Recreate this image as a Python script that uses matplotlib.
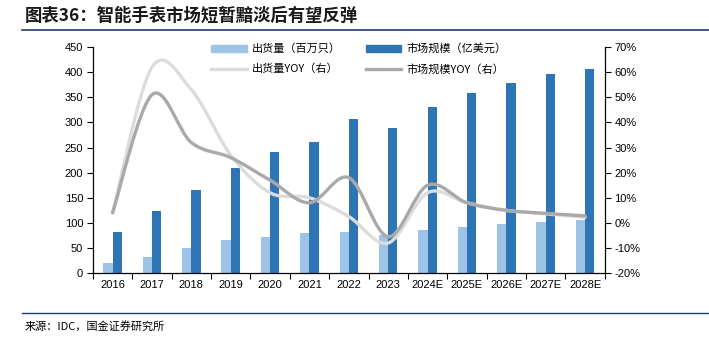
import numpy as np
import matplotlib
matplotlib.use('Agg')
import matplotlib.pyplot as plt
from matplotlib.path import Path
from matplotlib.patches import PathPatch
from matplotlib.lines import Line2D
from matplotlib.patches import Patch
from matplotlib.ticker import MultipleLocator, FuncFormatter

plt.rcParams['font.family'] = ['Liberation Sans', 'Noto Sans CJK SC', 'DejaVu Sans']

years = ['2016', '2017', '2018', '2019', '2020', '2021', '2022', '2023',
         '2024E', '2025E', '2026E', '2027E', '2028E']
shipments = [20, 32, 51, 66, 72, 80, 82, 75, 85, 92, 98, 102, 105]          # 百万只
market_size = [82, 123, 165, 209, 241, 261, 307, 289, 330, 359, 378, 396, 407]  # 亿美元
shipments_yoy = [4, 62, 53, 27, 12, 10, 2.5, -8, 12, 8, 5, 3.6, 2.2]        # %
market_yoy = [4, 51, 32, 26, 17, 8, 18, -5.5, 15, 8, 5, 3.8, 2.8]           # %

LIGHT_BAR = '#9DC3E6'
DARK_BAR = '#2E75B6'
LIGHT_LINE = '#DCDCDC'
DARK_LINE = '#A9A9A9'
NAVY = '#1F3F6B'


def smooth_path(xs, ys):
    """Excel-style smoothed line: cubic Bezier segments through the points."""
    xs = np.asarray(xs, float)
    ys = np.asarray(ys, float)
    n = len(xs)
    verts = [(xs[0], ys[0])]
    codes = [Path.MOVETO]
    for i in range(n - 1):
        p0 = (xs[max(i - 1, 0)], ys[max(i - 1, 0)])
        p1 = (xs[i], ys[i])
        p2 = (xs[i + 1], ys[i + 1])
        p3 = (xs[min(i + 2, n - 1)], ys[min(i + 2, n - 1)])
        c1 = (p1[0] + (p2[0] - p0[0]) / 6, p1[1] + (p2[1] - p0[1]) / 6)
        c2 = (p2[0] - (p3[0] - p1[0]) / 6, p2[1] - (p3[1] - p1[1]) / 6)
        verts += [c1, c2, p2]
        codes += [Path.CURVE4] * 3
    return Path(verts, codes)


fig = plt.figure(figsize=(7.09, 3.41), dpi=100)
ax = fig.add_axes([0.131, 0.199, 0.722, 0.663])
ax2 = ax.twinx()

x = np.arange(len(years))
w = 0.235
ax.bar(x - w / 2, shipments, width=w, color=LIGHT_BAR, zorder=2)
ax.bar(x + w / 2, market_size, width=w, color=DARK_BAR, zorder=2)

ax2.add_patch(PathPatch(smooth_path(x, shipments_yoy), facecolor='none',
                        edgecolor=LIGHT_LINE, lw=2.4, capstyle='round'))
ax2.add_patch(PathPatch(smooth_path(x, market_yoy), facecolor='none',
                        edgecolor=DARK_LINE, lw=2.4, capstyle='round'))

ax.set_xlim(-0.5, len(years) - 0.5)
ax.set_ylim(0, 450)
ax.yaxis.set_major_locator(MultipleLocator(50))
ax2.set_ylim(-20, 70)
ax2.yaxis.set_major_locator(MultipleLocator(10))
ax2.yaxis.set_major_formatter(FuncFormatter(lambda v, p: f'{v:.0f}%'))

ax.set_xticks(x)
ax.set_xticklabels(years)
ax.set_xticks(np.arange(-0.5, len(years)), minor=True)
ax.tick_params(axis='x', which='major', length=0, pad=5, labelsize=8)
ax.tick_params(axis='x', which='minor', length=4, direction='out', width=0.8)
ax.tick_params(axis='y', length=4, width=0.8, labelsize=8, pad=3)
ax2.tick_params(axis='y', length=4, width=0.8, labelsize=8, pad=3)

for a in (ax, ax2):
    a.spines['top'].set_visible(False)
    for s in ('left', 'right', 'bottom'):
        a.spines[s].set_linewidth(0.8)

handles = [Patch(color=LIGHT_BAR), Patch(color=DARK_BAR),
           Line2D([], [], color=LIGHT_LINE, lw=2.4),
           Line2D([], [], color=DARK_LINE, lw=2.4)]
labels = ['出货量（百万只）', '市场规模（亿美元）', '出货量YOY（右）', '市场规模YOY（右）']
order = [0, 2, 1, 3]
ax2.legend([handles[i] for i in order], [labels[i] for i in order], ncol=2,
           loc='upper center', bbox_to_anchor=(0.52, 1.06), frameon=False,
           handlelength=3.2, handleheight=0.6, handletextpad=0.5,
           columnspacing=2.2, labelspacing=0.85,
           prop={'family': ['Noto Sans CJK SC'], 'size': 8})

# title, separators, source
fig.text(0.035, 0.955, '图表36：智能手表市场短暂黯淡后有望反弹', fontsize=12.5,
         fontweight='bold', color='#1a1a1a', family=['Noto Sans CJK SC'],
         va='center', ha='left')
fig.add_artist(Line2D([0.031, 1.0], [0.913, 0.913], color=NAVY, lw=1.2))
fig.add_artist(Line2D([0.031, 1.0], [0.082, 0.082], color=NAVY, lw=1.0))
fig.text(0.035, 0.044, '来源：IDC，国金证券研究所', fontsize=8,
         family=['Noto Sans CJK SC'], va='center', ha='left')

fig.savefig('out.png', dpi=100)
